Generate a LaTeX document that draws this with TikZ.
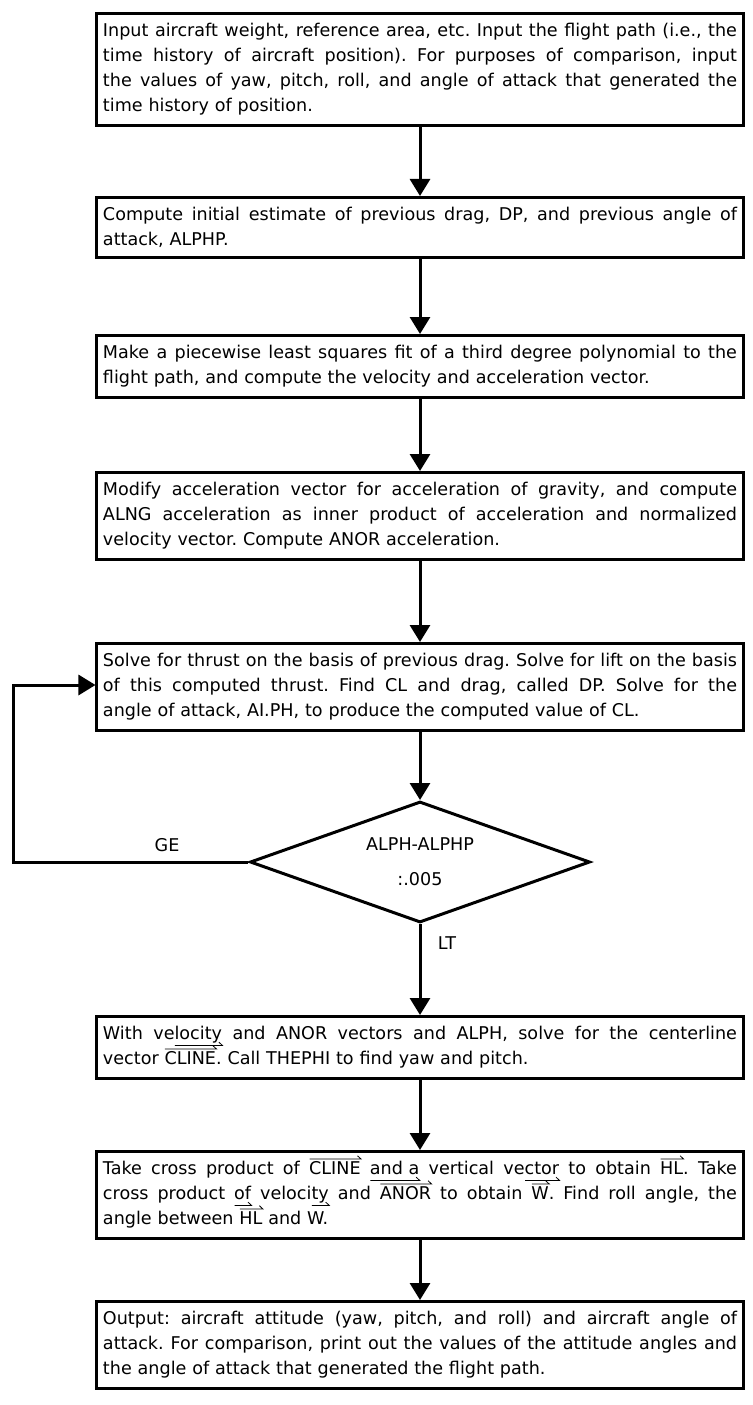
\documentclass[tikz,border=0pt]{standalone}
\usepackage{fontspec}
\setmainfont{DejaVu Sans}
\frenchspacing
\usetikzlibrary{shapes.geometric,arrows.meta}
\newsavebox{\vecword}
\newlength{\veclen}
\newcommand{\fline}[1]{{\spaceskip=0pt \xspaceskip=0pt \makebox[\hsize][s]{#1}}\\}
\newcommand{\vecmark}{\setlength{\veclen}{\wd\vecword}%
  \tikz[baseline=0pt]\draw[line width=0.7pt,line join=miter] (0pt,0pt) -- (\veclen,0pt) -- ++(-3pt,2.8pt);}
\newcommand{\vecup}[1]{\sbox{\vecword}{#1}\rlap{\raisebox{0.9em}[0pt][0pt]{\vecmark}}\usebox{\vecword}}
\newcommand{\vecdn}[1]{\sbox{\vecword}{#1}\rlap{\raisebox{-0.32em}[0pt][0pt]{\vecmark}}\usebox{\vecword}}
\tikzset{
  box/.style={draw,line width=0.09cm,anchor=north,text width=19.02cm,align=left,
    inner xsep=0.18cm,inner ysep=0.3cm,font=\fontsize{15}{21.3}\selectfont},
  decision/.style={draw,diamond,line width=0.09cm,inner sep=0pt,shape aspect=2.8,
    minimum width=10.2cm,minimum height=3.63cm,align=center,font=\fontsize{15}{21.3}\selectfont},
  flow/.style={line width=0.09cm,-{Triangle[width=0.6cm,length=0.51cm]}},
  lbl/.style={font=\fontsize{15}{18}\selectfont}
}
\begin{document}
\begin{tikzpicture}[x=0.03cm,y=-0.03cm]
\useasboundingbox (0,0) rectangle (752,1405);
\node[box] (input) at (420,12) {\fline{Input aircraft weight, reference area, etc. Input the flight path (i.e., the}
\fline{time history of aircraft position). For purposes of comparison, input}
\fline{the values of yaw, pitch, roll, and angle of attack that generated the}
time history of position.};
\node[box] (init) at (420,196) {\fline{Compute initial estimate of previous drag, DP, and previous angle of}
attack, ALPHP.};
\node[box] (fit) at (420,334) {\fline{Make a piecewise least squares fit of a third degree polynomial to the}
flight path, and compute the velocity and acceleration vector.};
\node[box] (accel) at (420,471) {\fline{Modify acceleration vector for acceleration of gravity, and compute}
\fline{ALNG acceleration as inner product of acceleration and normalized}
velocity vector. Compute ANOR acceleration.};
\node[box] (solve) at (420,642) {\fline{Solve for thrust on the basis of previous drag. Solve for lift on the basis}
\fline{of this computed thrust. Find CL and drag, called DP. Solve for the}
angle of attack, AI.PH, to produce the computed value of CL.};
\node[decision] (test) at (420,862) {ALPH-ALPHP\\[0.3cm]:.005};
\node[box] (cline) at (420,1015) {\fline{With ve\vecdn{locity} and ANOR vectors and ALPH, solve for the centerline}
vector \vecup{CLINE}. Call THEPHI to find yaw and pitch.};
\node[box] (roll) at (420,1150) {\fline{Take cross product of \vecup{CLINE} \vecdn{and a} vertical ve\vecdn{ctor} to obtain \vecup{HL}. Take}
\fline{cross product \vecdn{of} veloci\vecdn{ty} and \vecup{ANOR} to obtain \vecup{W}. Find roll angle, the}
angle between \vecup{HL} and W.};
\node[box] (output) at (420,1300) {\fline{Output: aircraft attitude (yaw, pitch, and roll) and aircraft angle of}
\fline{attack. For comparison, print out the values of the attitude angles and}
the angle of attack that generated the flight path.};
\node[lbl] (ge) at (167,845) {GE};
\node[lbl] (lt) at (447,943) {LT};
\coordinate (back) at (13,685);
\draw[flow] (input) -- (init);
\draw[flow] (init) -- (fit);
\draw[flow] (fit) -- (accel);
\draw[flow] (accel) -- (solve);
\draw[flow] (solve) -- (test);
\draw[flow] (test.west) -| (back) -- (back -| solve.west);
\draw[flow] (test.south) -- (cline);
\draw[flow] (cline) -- (roll);
\draw[flow] (roll) -- (output);
\end{tikzpicture}
\end{document}
